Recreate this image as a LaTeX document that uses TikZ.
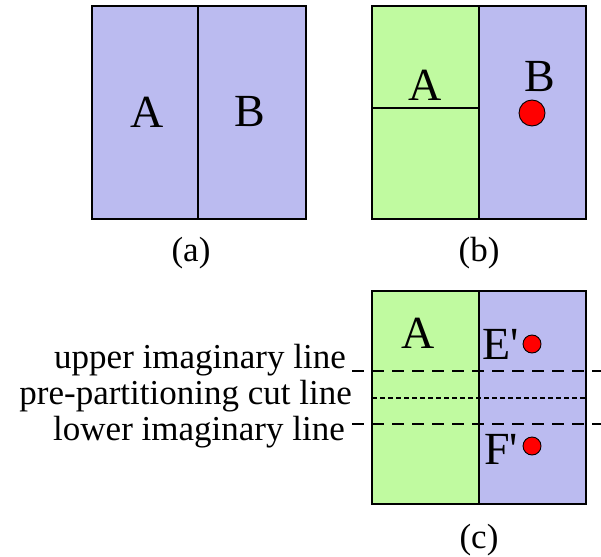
\documentclass[tikz,border=0pt]{standalone}
\usepackage{fontspec}
\setmainfont{Liberation Serif}
\definecolor{pblue}{RGB}{187,187,240}
\definecolor{pgreen}{RGB}{192,250,160}
\begin{document}
\begin{tikzpicture}[x=1pt,y=-1pt,
  boxline/.style={draw=black,line width=2.5pt},
  divline/.style={draw=black,line width=1.8pt},
  bigtxt/.style={font=\fontsize{46}{50}\selectfont,inner sep=0pt},
  captxt/.style={font=\fontsize{35}{40}\selectfont,inner sep=0pt},
  reddot/.style={circle,draw=black,line width=0.9pt,fill=red,inner sep=0pt},
  imagline/.style={draw=black,line width=1.6pt,dash pattern=on 12pt off 8pt},
  cutline/.style={draw=black,line width=2.3pt,dash pattern=on 5pt off 3pt}]
\useasboundingbox (0,0) rectangle (601,556);
% (a)
\fill[pblue] (92,6) rectangle (306,219);
\draw[divline] (198,6) -- (198,219);
\draw[boxline] (92,6) rectangle (306,219);
\node[bigtxt] (aA) at (147,112) {A};
\node[bigtxt] (aB) at (250,112) {B};
\node[captxt] (la) at (191,253) {(a)};
% (b)
\fill[pgreen] (372,6) rectangle (479,219);
\fill[pblue] (479,6) rectangle (586,219);
\draw[divline] (479,6) -- (479,219);
\draw[divline] (372,108) -- (479,108);
\draw[boxline] (372,6) rectangle (586,219);
\node[bigtxt] (bA) at (425,85) {A};
\node[bigtxt] (bB) at (539.5,77) {B};
\node[reddot,minimum size=26pt] (bdot) at (532,113) {};
\node[captxt] (lb) at (479,253) {(b)};
% (c)
\fill[pgreen] (372,291) rectangle (479,504);
\fill[pblue] (479,291) rectangle (586,504);
\draw[divline] (479,291) -- (479,504);
\coordinate (u0) at (352,371); \coordinate (u1) at (601,371);
\coordinate (l0) at (352,424); \coordinate (l1) at (601,424);
\coordinate (c0) at (372,398); \coordinate (c1) at (586,398);
\draw[imagline] (u0) -- (u1);
\draw[imagline] (l0) -- (l1);
\draw[cutline] (c0) -- (c1);
\draw[boxline] (372,291) rectangle (586,504);
\node[bigtxt] (cA) at (418,333) {A};
\node[bigtxt] (cE) at (501,344) {E\textquotesingle};
\node[bigtxt] (cF) at (501,449) {F\textquotesingle};
\node[reddot,minimum size=18pt] (edot) at (532,344) {};
\node[reddot,minimum size=18pt] (fdot) at (532,446) {};
\node[captxt,anchor=base east] (tu) at (346,368) {upper imaginary line};
\node[captxt,anchor=base east] (tc) at (352,404) {pre-partitioning cut line};
\node[captxt,anchor=base east] (tl) at (345,440) {lower imaginary line};
\node[captxt] (lc) at (479,540) {(c)};
\end{tikzpicture}
\end{document}
